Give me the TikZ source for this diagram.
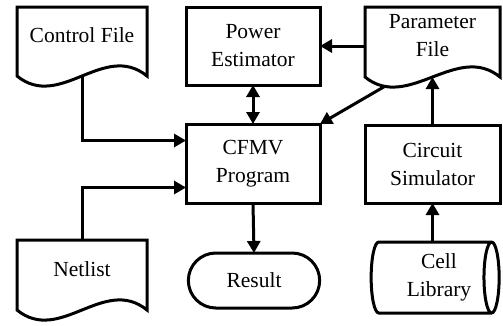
\documentclass[tikz,border=0pt]{standalone}
\usepackage{fontspec}
\setmainfont{Liberation Serif}
\usetikzlibrary{arrows.meta,shapes.geometric,shapes.misc}
\tikzset{
  line/.style={line width=3pt},
  box/.style={draw, line, minimum width=134pt, minimum height=78pt, align=center, outer sep=0pt},
  docbox/.style={minimum width=130pt, minimum height=57pt, align=center, outer sep=0pt},
  arr/.style={line, -{Triangle[length=12pt,width=13pt]}},
  dblarr/.style={line, {Triangle[length=12pt,width=13pt]}-{Triangle[length=12pt,width=13pt]}}
}
% document symbol: straight top and sides, wavy bottom
\newcommand{\docoutline}[1]{%
  \draw[line] (#1.north west) -- ([yshift=-12pt]#1.south west)
    .. controls +(43pt,-35pt) and +(-43pt,35pt) ..
    coordinate[pos=0.15] (#1-dip) coordinate[pos=0.5] (#1-mid)
    ([yshift=-12pt]#1.south east) -- (#1.north east) -- cycle;}
\begin{document}
\begin{tikzpicture}[x=1pt,y=-1pt,font=\fontsize{21.5}{28}\selectfont]
  \useasboundingbox (0,0) rectangle (503,325);

  \node (ctrl) [docbox] at (82,35.5) {Control File};
  \node (param) [docbox, minimum width=135pt, minimum height=58pt] at (432.5,36) {Parameter\\File};
  \node (net) [docbox, minimum height=58pt] at (82,269) {Netlist};
  \docoutline{ctrl}
  \docoutline{param}
  \docoutline{net}

  \node (power) [box] at (253,46) {Power\\Estimator};
  \node (cfmv) [box, minimum height=79pt] at (253,163.5) {CFMV\\Program};
  \node (circ) [box, minimum width=135pt] at (432.5,164) {Circuit\\Simulator};
  \node (result) [draw, line, rounded rectangle, minimum width=138pt, minimum height=55pt, outer sep=0pt] at (254,280.5) {Result};
  \node (cell) [draw, line, cylinder, shape aspect=0.28, minimum width=71pt, minimum height=128pt, align=center, outer sep=0pt] at (429,277.5) {\hspace*{20pt}Cell\\\hspace*{20pt}Library};

  \draw[arr] (ctrl-mid) |- ([yshift=23pt]cfmv.west);
  \draw[arr] (net.north) |- ([yshift=-24pt]cfmv.west);
  \draw[dblarr] (power.south) -- (cfmv.north);
  \draw[arr] (power.east -| param.west) -- (power.east);
  \draw[arr] (param-dip) -- (cfmv.north east);
  \draw[arr] (circ.north) -- (param-mid);
  \draw[arr] (cfmv.south) -- (result.north);
  \draw[arr] (cell.north -| circ.south) -- (circ.south);
\end{tikzpicture}
\end{document}
